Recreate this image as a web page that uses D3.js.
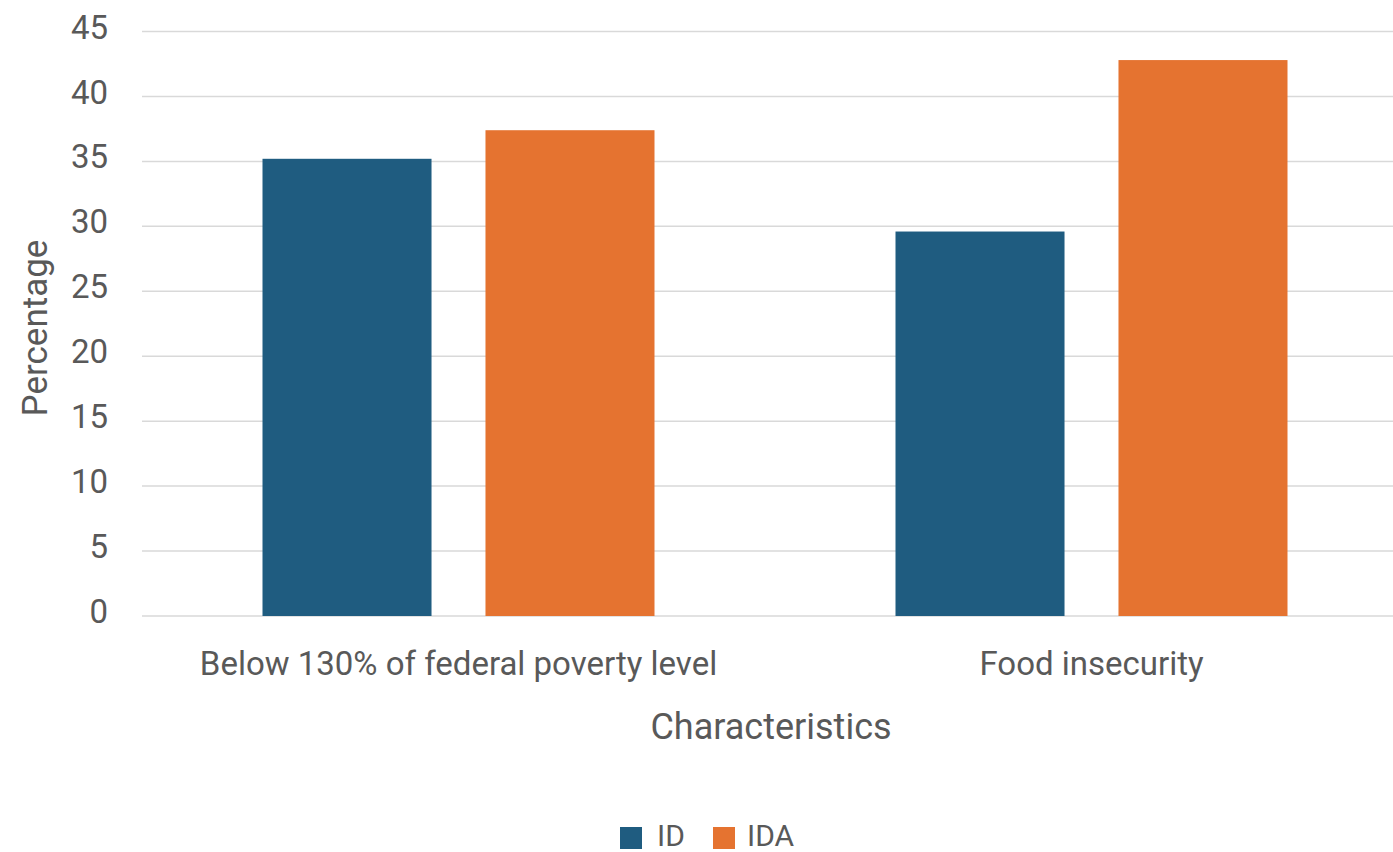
<!DOCTYPE html>
<html>
<head>
<meta charset="utf-8">
<script src="https://cdn.jsdelivr.net/npm/d3@7"></script>
<style>
    body { margin: 0; background: #fff; }
    svg text { font-family: Roboto, "Liberation Sans", sans-serif; fill: #595959; }
</style>
</head>
<body>
<svg width="1393" height="852"></svg>
<script>
// chart data
const categories = ["Below 130% of federal poverty level", "Food insecurity"];
const seriesNames = ["ID", "IDA"];
const idValues  = [35.2, 29.6];
const idaValues = [37.4, 42.8];
const yTicks = [0, 5, 10, 15, 20, 25, 30, 35, 40, 45];

const colors = { ID: "#1f5c80", IDA: "#e57330" };

let svg = d3.select("svg");
let width = +svg.attr("width");
let height = +svg.attr("height");

let plot = { left: 142, right: 1408, top: 31.5, bottom: 616 };

let rows = categories.map((c, i) => ({ category: c, ID: idValues[i], IDA: idaValues[i] }));

let x0 = d3.scaleBand()
    .domain(categories)
    .range([plot.left, plot.right])
    .padding(0);

let x1 = d3.scaleBand()
    .domain(seriesNames)
    .range([120.5, x0.bandwidth() - 120.5])
    .paddingInner(0.242)
    .paddingOuter(0);

let y = d3.scaleLinear()
    .domain([0, 45])
    .range([plot.bottom, plot.top]);

// gridlines
svg.append("g")
    .selectAll("line")
    .data(yTicks)
    .enter().append("line")
    .attr("x1", plot.left)
    .attr("x2", plot.right)
    .attr("y1", d => y(d))
    .attr("y2", d => y(d))
    .attr("stroke", "#d9d9d9")
    .attr("stroke-width", 1.5);

// y axis labels (no axis line)
let yAxis = svg.append("g")
    .attr("transform", `translate(${plot.left},0)`)
    .call(d3.axisLeft(y).tickValues(yTicks).tickSize(0).tickPadding(34));
yAxis.select(".domain").remove();
yAxis.selectAll("text")
    .attr("font-size", 33)
    .attr("font-family", null)
    .attr("dy", "0.2em");

// bars
let groups = svg.append("g")
    .selectAll("g")
    .data(rows)
    .enter().append("g")
    .attr("transform", d => `translate(${x0(d.category)},0)`);

groups.selectAll("rect")
    .data(d => seriesNames.map(s => ({ key: s, value: d[s] })))
    .enter().append("rect")
    .attr("x", d => x1(d.key))
    .attr("y", d => y(d.value))
    .attr("width", x1.bandwidth())
    .attr("height", d => y(0) - y(d.value))
    .attr("fill", d => colors[d.key]);

// category labels
let xAxis = svg.append("g")
    .attr("transform", `translate(0,${plot.bottom})`)
    .call(d3.axisBottom(x0).tickSize(0).tickPadding(36));
xAxis.select(".domain").remove();
xAxis.selectAll("text")
    .attr("font-size", 33)
    .attr("font-family", null);

// axis titles
svg.append("text")
    .attr("x", 771)
    .attr("y", 739)
    .attr("text-anchor", "middle")
    .attr("font-size", 36)
    .text("Characteristics");

svg.append("text")
    .attr("transform", "translate(47,328) rotate(-90)")
    .attr("text-anchor", "middle")
    .attr("font-size", 35)
    .text("Percentage");

// legend
let legend = svg.append("g");
let legendItems = [{ key: "ID", x: 620, tx: 657 }, { key: "IDA", x: 713, tx: 747 }];
legend.selectAll("rect")
    .data(legendItems)
    .enter().append("rect")
    .attr("x", d => d.x)
    .attr("y", 827)
    .attr("width", 22)
    .attr("height", 22)
    .attr("fill", d => colors[d.key]);
legend.selectAll("text")
    .data(legendItems)
    .enter().append("text")
    .attr("x", d => d.tx)
    .attr("y", 846)
    .attr("font-size", 30)
    .text(d => d.key);
</script>
</body>
</html>
